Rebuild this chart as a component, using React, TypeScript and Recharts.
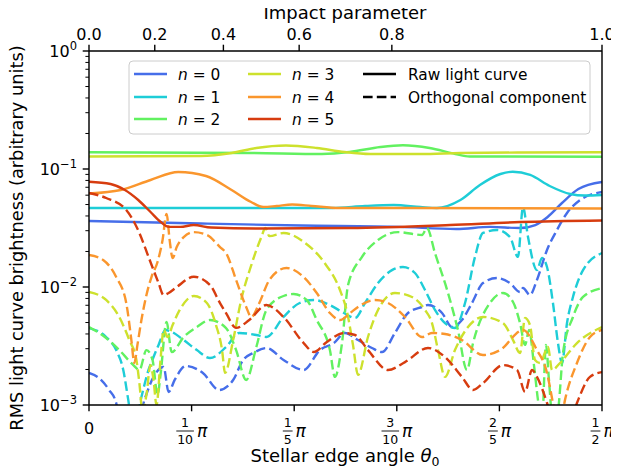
import React from 'react'
import { LineChart, Line, XAxis, YAxis } from 'recharts'

const FONT = "'DejaVu Sans', sans-serif"

// harmonic orders n and their colours
const orderLabels = ['0', '1', '2', '3', '4', '5']
const orderColors = ['#466ee9', '#1ecdd7', '#62f160', '#cde12d', '#fa962d', '#d73c0f']

// [theta0 / pi, RMS brightness] -- raw light curve (solid)
const raw0: [number, number][] = [[0, 0.0362], [0.109, 0.0345], [0.207, 0.0332], [0.303, 0.0323], [0.358, 0.031], [0.391, 0.0323], [0.42, 0.0316], [0.435, 0.0335], [0.447, 0.0392], [0.461, 0.0515], [0.477, 0.0677], [0.5, 0.0776]]
const raw1: [number, number][] = [[0, 0.0467], [0.158, 0.0467], [0.237, 0.0467], [0.269, 0.0486], [0.297, 0.0495], [0.323, 0.0476], [0.339, 0.0467], [0.362, 0.0546], [0.381, 0.0732], [0.401, 0.0907], [0.413, 0.0949], [0.43, 0.089], [0.449, 0.0718], [0.469, 0.0614], [0.483, 0.0596], [0.5, 0.0602]]
const raw2: [number, number][] = [[0, 0.1385], [0.158, 0.1367], [0.227, 0.134], [0.254, 0.1393], [0.284, 0.1536], [0.306, 0.1588], [0.332, 0.1507], [0.357, 0.134], [0.371, 0.1276], [0.5, 0.1271]]
const raw3: [number, number][] = [[0, 0.1276], [0.109, 0.1288], [0.139, 0.1367], [0.163, 0.1507], [0.192, 0.1582], [0.222, 0.1507], [0.249, 0.1393], [0.274, 0.134], [0.323, 0.134], [0.362, 0.1367], [0.42, 0.138], [0.5, 0.1385]]
const raw4: [number, number][] = [[0, 0.062], [0.031, 0.0664], [0.06, 0.0807], [0.087, 0.0943], [0.114, 0.0872], [0.139, 0.0664], [0.158, 0.0525], [0.17, 0.0476], [0.183, 0.0486], [0.198, 0.05], [0.217, 0.0486], [0.244, 0.0467], [0.303, 0.0467], [0.5, 0.0463]]
const raw5: [number, number][] = [[0, 0.078], [0.021, 0.0746], [0.035, 0.0664], [0.048, 0.0546], [0.06, 0.0432], [0.07, 0.0355], [0.078, 0.0323], [0.089, 0.0323], [0.102, 0.0335], [0.119, 0.0319], [0.168, 0.0313], [0.254, 0.0316], [0.352, 0.0335], [0.42, 0.0355], [0.5, 0.0366]]

// orthogonal component (dashed)
const ortho0: [number, number][] = [[0, 0.00187], [0.0098, 0.00169], [0.0196, 0.00134], [0.0265, 0.00104], [0.0305, 0.0007], [0.0462, 0.00065], [0.054, 0.0011], [0.0629, 0.00173], [0.0727, 0.0021], [0.0776, 0.00129], [0.0835, 0.00163], [0.0943, 0.00214], [0.111, 0.00187], [0.1267, 0.00134], [0.1405, 0.00163], [0.1503, 0.00241], [0.1601, 0.00276], [0.1729, 0.00304], [0.1896, 0.00241], [0.2092, 0.00198], [0.225, 0.00292], [0.2387, 0.00335], [0.2495, 0.00408], [0.2622, 0.00355], [0.2758, 0.00304], [0.2856, 0.00281], [0.2982, 0.00408], [0.3109, 0.00602], [0.3246, 0.00677], [0.3304, 0.00703], [0.3441, 0.00602], [0.3538, 0.00458], [0.3635, 0.00525], [0.3733, 0.00732], [0.384, 0.0108], [0.3977, 0.01192], [0.4103, 0.0108], [0.4201, 0.00907], [0.423, 0.0098], [0.4298, 0.00855], [0.4366, 0.01147], [0.4464, 0.0206], [0.4561, 0.0304], [0.4659, 0.0424], [0.4786, 0.0546], [0.5, 0.0638]]
const ortho1: [number, number][] = [[0, 0.00449], [0.0167, 0.00377], [0.0265, 0.00292], [0.0334, 0.00198], [0.0383, 0.0011], [0.0432, 0.0006], [0.0511, 0.00117], [0.058, 0.00198], [0.0629, 0.00255], [0.0678, 0.00323], [0.0747, 0.00432], [0.0786, 0.00424], [0.0923, 0.00355], [0.1051, 0.00292], [0.1179, 0.0025], [0.1336, 0.0031], [0.1464, 0.00408], [0.1631, 0.00392], [0.1729, 0.00377], [0.1896, 0.00557], [0.2053, 0.00732], [0.2191, 0.00776], [0.2348, 0.00703], [0.2485, 0.00602], [0.2593, 0.00546], [0.269, 0.00732], [0.2817, 0.0108], [0.2953, 0.0139], [0.306, 0.01477], [0.3177, 0.01314], [0.3275, 0.00943], [0.3372, 0.00639], [0.347, 0.00495], [0.3567, 0.00449], [0.3665, 0.00732], [0.3762, 0.018], [0.384, 0.0287], [0.3977, 0.0304], [0.4103, 0.0265], [0.4181, 0.018], [0.423, 0.0476], [0.4279, 0.0265], [0.4366, 0.0139], [0.4415, 0.0176], [0.4464, 0.01477], [0.4522, 0.00732], [0.4571, 0.00335], [0.461, 0.00227], [0.4659, 0.00495], [0.4717, 0.00823], [0.4815, 0.0139], [0.5, 0.0194]]
const ortho2: [number, number][] = [[0, 0.00458], [0.0167, 0.0037], [0.0295, 0.00292], [0.0432, 0.00218], [0.0491, 0.00198], [0.056, 0.00292], [0.0619, 0.00241], [0.0668, 0.00122], [0.0697, 0.0018], [0.0756, 0.00505], [0.0806, 0.00281], [0.0923, 0.00377], [0.1051, 0.00458], [0.1179, 0.00525], [0.1336, 0.00449], [0.1434, 0.00292], [0.1532, 0.00163], [0.1631, 0.0031], [0.1729, 0.00639], [0.1896, 0.00839], [0.1994, 0.00872], [0.2122, 0.00776], [0.222, 0.00525], [0.2348, 0.00292], [0.2397, 0.00173], [0.2466, 0.00335], [0.2525, 0.0104], [0.2661, 0.018], [0.2817, 0.025], [0.3012, 0.0292], [0.3246, 0.0276], [0.3294, 0.0316], [0.3372, 0.0194], [0.3499, 0.0089], [0.3596, 0.00432], [0.3684, 0.00198], [0.3743, 0.00335], [0.3908, 0.00732], [0.4035, 0.0089], [0.4133, 0.00746], [0.4201, 0.00495], [0.425, 0.00323], [0.4289, 0.00432], [0.4337, 0.00218], [0.4376, 0.0011], [0.4415, 0.0007], [0.4454, 0.00323], [0.4483, 0.00163], [0.4522, 0.0007], [0.4571, 0.0009], [0.462, 0.00276], [0.4717, 0.00557], [0.4815, 0.00823], [0.5, 0.0098]]
const ortho3: [number, number][] = [[0, 0.00907], [0.0167, 0.00776], [0.0295, 0.00557], [0.0393, 0.00355], [0.0462, 0.00241], [0.0491, 0.00154], [0.0521, 0.00088], [0.056, 0.00122], [0.0599, 0.00218], [0.0629, 0.00163], [0.0658, 0.001], [0.0697, 0.00241], [0.0727, 0.00432], [0.0766, 0.00377], [0.0815, 0.00476], [0.0884, 0.00639], [0.0953, 0.00776], [0.1022, 0.00839], [0.1149, 0.00732], [0.1238, 0.00476], [0.1297, 0.00292], [0.1326, 0.00187], [0.1405, 0.00355], [0.1483, 0.00776], [0.1582, 0.01536], [0.168, 0.0265], [0.1719, 0.0316], [0.1758, 0.027], [0.1896, 0.0287], [0.2092, 0.0241], [0.2289, 0.01629], [0.2446, 0.00943], [0.2515, 0.00614], [0.2573, 0.00323], [0.2622, 0.0018], [0.2719, 0.00377], [0.2817, 0.00639], [0.2982, 0.0089], [0.3148, 0.00823], [0.3275, 0.00639], [0.3343, 0.00495], [0.3402, 0.00292], [0.347, 0.00173], [0.3567, 0.00292], [0.3694, 0.00458], [0.384, 0.00557], [0.4035, 0.00495], [0.4133, 0.00355], [0.4201, 0.00276], [0.425, 0.00546], [0.4298, 0.00476], [0.4347, 0.00241], [0.4396, 0.00227], [0.4474, 0.0031], [0.4513, 0.00198], [0.4591, 0.00227], [0.4756, 0.00335], [0.5, 0.00458]]
const ortho4: [number, number][] = [[0, 0.01867], [0.0138, 0.01694], [0.0265, 0.01215], [0.0363, 0.00732], [0.0413, 0.00355], [0.0442, 0.00227], [0.0472, 0.00323], [0.0511, 0.00525], [0.056, 0.00855], [0.0609, 0.01215], [0.0668, 0.01629], [0.0717, 0.025], [0.0756, 0.0416], [0.0786, 0.025], [0.0815, 0.0176], [0.0855, 0.0218], [0.0923, 0.0265], [0.1022, 0.0292], [0.1149, 0.0276], [0.1277, 0.0218], [0.1336, 0.0194], [0.1434, 0.01147], [0.1532, 0.00677], [0.1582, 0.00557], [0.166, 0.00732], [0.1758, 0.01147], [0.1925, 0.0145], [0.2092, 0.01215], [0.222, 0.0089], [0.2348, 0.00602], [0.2446, 0.00525], [0.2544, 0.00602], [0.2622, 0.00677], [0.2788, 0.00776], [0.2914, 0.00732], [0.308, 0.00557], [0.3246, 0.00377], [0.3343, 0.00408], [0.347, 0.004], [0.3635, 0.00355], [0.384, 0.00265], [0.4006, 0.00292], [0.423, 0.00432], [0.4366, 0.00292], [0.4464, 0.00187], [0.4522, 0.00104], [0.4581, 0.0006], [0.4639, 0.0011], [0.4756, 0.00227], [0.4883, 0.00377], [0.5, 0.00432]]
const ortho5: [number, number][] = [[0, 0.0626], [0.0167, 0.0568], [0.0363, 0.045], [0.0491, 0.0287], [0.058, 0.018], [0.0629, 0.0139], [0.0678, 0.0108], [0.0727, 0.00855], [0.0776, 0.0089], [0.0855, 0.01], [0.1022, 0.0122], [0.1179, 0.0104], [0.1277, 0.0073], [0.1336, 0.006], [0.1434, 0.0045], [0.1562, 0.00525], [0.1729, 0.00703], [0.1896, 0.00557], [0.2092, 0.00335], [0.2191, 0.00281], [0.2318, 0.00342], [0.2485, 0.00407], [0.2593, 0.00392], [0.2719, 0.00292], [0.2914, 0.00198], [0.308, 0.00231], [0.3304, 0.00304], [0.347, 0.00255], [0.3635, 0.00173], [0.3743, 0.00134], [0.384, 0.00153], [0.4035, 0.00218], [0.4172, 0.00198], [0.425, 0.00129], [0.4318, 0.00198], [0.4366, 0.00173], [0.4464, 0.00104], [0.4542, 0.0006], [0.4659, 0.0006], [0.4756, 0.00104], [0.4883, 0.00173], [0.5, 0.0019]]

const rawCurves = [raw0, raw1, raw2, raw3, raw4, raw5]
const orthoCurves = [ortho0, ortho1, ortho2, ortho3, ortho4, ortho5]

// axes
const angleTicks = [0, 0.1, 0.2, 0.3, 0.4, 0.5]
const angleFractions: ([string, string] | null)[] = [null, ['1', '10'], ['1', '5'], ['3', '10'], ['2', '5'], ['1', '2']]
const impactTicks = [0.0, 0.2, 0.4, 0.6, 0.8, 1.0]
const decadeTicks = [0.001, 0.01, 0.1, 1]
const minorSteps = [2, 3, 4, 5, 6, 7, 8, 9]

const yTicks = [...decadeTicks, ...decadeTicks.slice(0, 3).flatMap(d => minorSteps.map(k => k * d))]

const MAJOR = 6.3
const MINOR = 3.6

const YTick = (props: any) => {
    const { x, y, payload } = props
    const v = payload.value
    const major = decadeTicks.some(d => Math.abs(d - v) / d < 1e-6)
    if (!major) {
        return <line x1={x - MINOR} x2={x} y1={y} y2={y} stroke="#000" strokeWidth={1} />
    }
    const exp = Math.round(Math.log10(v))
    return (
        <g>
            <line x1={x - MAJOR} x2={x} y1={y} y2={y} stroke="#000" strokeWidth={1.4} />
            <text x={x - 12} y={y + 6} textAnchor="end" fontFamily={FONT} fontSize={16} fill="#000">
                10<tspan dy={-7} fontSize={11.5}>{exp === 0 ? '0' : '\u2212' + Math.abs(exp)}</tspan>
            </text>
        </g>
    )
}

const BottomTick = (props: any) => {
    const { x, y, payload } = props
    const i = angleTicks.findIndex(t => Math.abs(t - payload.value) < 1e-9)
    const frac = angleFractions[i]
    let label = null
    if (!frac) {
        label = <text x={x} y={y + 29} textAnchor="middle" fontFamily={FONT} fontSize={16} fill="#000">0</text>
    } else {
        const fw = Math.max(frac[0].length, frac[1].length) * 7.8 + 2
        const total = fw + 3 + 10
        const left = x - total / 2
        const cx = left + fw / 2
        label = (
            <g>
                <text x={cx} y={y + 22} textAnchor="middle" fontFamily={FONT} fontSize={12.5} fill="#000">{frac[0]}</text>
                <line x1={left} x2={left + fw} y1={y + 26} y2={y + 26} stroke="#000" strokeWidth={0.9} />
                <text x={cx} y={y + 38.5} textAnchor="middle" fontFamily={FONT} fontSize={12.5} fill="#000">{frac[1]}</text>
                <text x={left + fw + 3} y={y + 32} fontFamily={FONT} fontStyle="italic" fontSize={17} fill="#000">π</text>
            </g>
        )
    }
    return (
        <g>
            <line x1={x} x2={x} y1={y} y2={y + MAJOR} stroke="#000" strokeWidth={1.4} />
            {label}
        </g>
    )
}

const TopTick = (props: any) => {
    const { x, y, payload } = props
    const b = Math.sin(payload.value * Math.PI)
    return (
        <g>
            <line x1={x} x2={x} y1={y - MAJOR} y2={y} stroke="#000" strokeWidth={1.4} />
            <text x={x} y={y - 11} textAnchor="middle" fontFamily={FONT} fontSize={16} fill="#000">{b.toFixed(1)}</text>
        </g>
    )
}

const toRows = (pts: [number, number][]) => pts.map(([t, v]) => ({ t, v }))

const LegendBox = () => {
    const rowY = [66, 89, 111]
    const cols = [126, 240]
    return (
        <g fontFamily={FONT} fontSize={15.4} fill="#000">
            <rect x={121} y={53} width={461} height={73} rx={4} fill="#fff" fillOpacity={0.8} stroke="#cccccc" strokeWidth={1} />
            {orderLabels.map((n, i) => {
                const cx = cols[Math.floor(i / 3)]
                const cy = rowY[i % 3]
                return (
                    <g key={n}>
                        <line x1={cx} x2={cx + 33} y1={cy} y2={cy} stroke={orderColors[i]} strokeWidth={2.6} />
                        <text x={cx + 44} y={cy + 5.5}>
                            <tspan fontStyle="italic">n</tspan> = {n}
                        </text>
                    </g>
                )
            })}
            <line x1={355} x2={388} y1={rowY[0]} y2={rowY[0]} stroke="#000" strokeWidth={2.6} />
            <text x={400} y={rowY[0] + 5.5}>Raw light curve</text>
            <line x1={355} x2={388} y1={rowY[1]} y2={rowY[1]} stroke="#000" strokeWidth={2.6} strokeDasharray="9.6 4.2" />
            <text x={400} y={rowY[1] + 5.5}>Orthogonal component</text>
        </g>
    )
}

export default function App() {
    return (
        <div style={{ position: 'relative', width: 611, height: 464 }}>
            <LineChart width={611} height={464} margin={{ top: 0, right: 16, bottom: 0, left: 0 }}>
                <XAxis xAxisId="b" dataKey="t" type="number" orientation="bottom" domain={[0, 0.5]} allowDataOverflow
                    ticks={angleTicks} interval={0} height={67} tickLine={false} tickSize={0} tickMargin={0}
                    tick={(p: any) => <BottomTick {...p} />} axisLine={{ stroke: '#000', strokeWidth: 1.45 }} />
                <XAxis xAxisId="top" dataKey="t" type="number" orientation="top" domain={[0, 0.5]} allowDataOverflow
                    ticks={impactTicks.map(b => Math.asin(b) / Math.PI)} interval={0} height={43} tickLine={false}
                    tickSize={0} tickMargin={0} tick={(p: any) => <TopTick {...p} />}
                    axisLine={{ stroke: '#000', strokeWidth: 1.45 }} />
                <YAxis yAxisId="l" type="number" scale="log" domain={[0.001, 1]} allowDataOverflow ticks={yTicks}
                    interval={0} width={81} tickLine={false} tickSize={0} tickMargin={0}
                    tick={(p: any) => <YTick {...p} />} axisLine={{ stroke: '#000', strokeWidth: 1.45 }} />
                <YAxis yAxisId="r" orientation="right" type="number" domain={[0, 1]} width={1} tick={false}
                    tickLine={false} axisLine={{ stroke: '#000', strokeWidth: 1.45 }} />
                {orderLabels.flatMap((n, i) => [
                    <Line key={'raw' + n} xAxisId="b" yAxisId="l" data={toRows(rawCurves[i])} dataKey="v" type="monotone"
                        stroke={orderColors[i]} strokeWidth={2.4} dot={false} activeDot={false} isAnimationActive={false} />,
                    <Line key={'orth' + n} xAxisId="b" yAxisId="l" data={toRows(orthoCurves[i])} dataKey="v" type="monotone"
                        stroke={orderColors[i]} strokeWidth={2.4} strokeDasharray="9.6 4.2" dot={false} activeDot={false}
                        isAnimationActive={false} />,
                ])}
            </LineChart>
            <svg width={611} height={464} style={{ position: 'absolute', left: 0, top: 0, overflow: 'visible', pointerEvents: 'none' }}>
                <text x={337} y={11} textAnchor="middle" fontFamily={FONT} fontSize={18} fill="#000">Impact parameter</text>
                <text x={337} y={454} textAnchor="middle" fontFamily={FONT} fontSize={18} fill="#000">
                    Stellar edge angle <tspan fontStyle="italic">θ</tspan><tspan fontSize={12.5} dy={4}>0</tspan>
                </text>
                <text transform="translate(15,230) rotate(-90)" textAnchor="middle" fontFamily={FONT} fontSize={17.8} fill="#000">
                    RMS light curve brightness (arbitrary units)
                </text>
                <LegendBox />
            </svg>
        </div>
    )
}
